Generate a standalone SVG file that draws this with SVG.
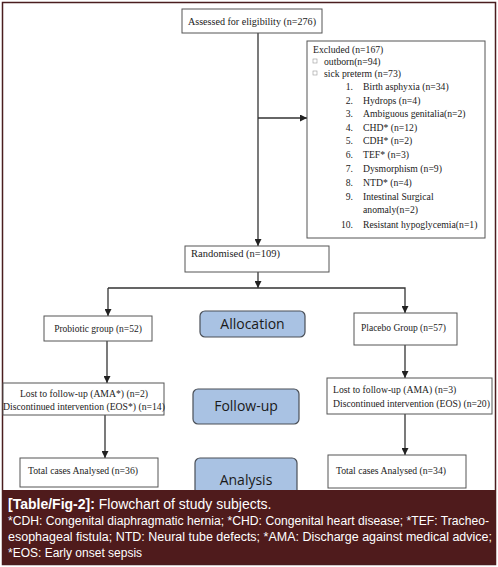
<svg xmlns="http://www.w3.org/2000/svg" width="498" height="567" viewBox="0 0 498 567">
<defs>
<marker id="ah" viewBox="0 0 10 10" refX="10" refY="5" markerWidth="7" markerHeight="7" markerUnits="userSpaceOnUse" orient="auto"><path d="M0,0 L10,5 L0,10 z" fill="#222"/></marker>
</defs>
<style>
.box{fill:#fff;stroke:#555;stroke-width:1}
.stage{fill:#a9c2e3;stroke:#4a4f57;stroke-width:1.2}
.t{font-family:"Liberation Serif","Times New Roman",serif;fill:#222}
.s{font-family:"Open Sans","Noto Sans",sans-serif;font-size:14px;fill:#1a1a1a;text-anchor:middle}
.c{font-family:"Liberation Sans",Arial,sans-serif;fill:#fff}
.ln{stroke:#333;stroke-width:1.3;fill:none}
</style>
<rect x="0" y="0" width="498" height="567" fill="#fff"/>
<rect x="2.5" y="2.5" width="493" height="562" fill="none" stroke="#4a1d1f" stroke-width="1.5"/>
<g id="connectors">
<line class="ln" x1="258" y1="33" x2="258" y2="246" marker-end="url(#ah)"/>
<line class="ln" x1="258" y1="118" x2="307" y2="118" marker-end="url(#ah)"/>
<line class="ln" x1="258" y1="272" x2="258" y2="288" marker-end="url(#ah)"/>
<polyline class="ln" points="108,288 405,288 405,313" marker-end="url(#ah)"/>
<line class="ln" x1="108" y1="288" x2="108" y2="316" marker-end="url(#ah)"/>
<line class="ln" x1="107" y1="341" x2="107" y2="383" marker-end="url(#ah)"/>
<line class="ln" x1="405" y1="345" x2="405" y2="378" marker-end="url(#ah)"/>
<line class="ln" x1="105" y1="415" x2="105" y2="458" marker-end="url(#ah)"/>
<line class="ln" x1="405" y1="414" x2="405" y2="455" marker-end="url(#ah)"/>
</g>
<g id="assessed">
<rect class="box" x="182" y="9" width="140" height="24"/>
<text class="t" x="188" y="25" font-size="11" textLength="128" lengthAdjust="spacingAndGlyphs">Assessed for eligibility  (n=276)</text>
</g>
<g id="excluded">
<rect class="box" x="307" y="41" width="178" height="197"/>
<g class="t" font-size="9.7">
<text x="313" y="53">Excluded  (n=167)</text>
<rect x="313" y="59" width="4" height="4" fill="none" stroke="#999" stroke-width="0.6"/>
<text x="324" y="65">outborn(n=94)</text>
<rect x="313" y="71" width="4" height="4" fill="none" stroke="#999" stroke-width="0.6"/>
<text x="324" y="77">sick preterm (n=73)</text>
<text x="353" y="90" text-anchor="end">1.</text><text x="363" y="90">Birth asphyxia (n=34)</text>
<text x="353" y="104" text-anchor="end">2.</text><text x="363" y="104">Hydrops  (n=4)</text>
<text x="353" y="117" text-anchor="end">3.</text><text x="363" y="117">Ambiguous genitalia(n=2)</text>
<text x="353" y="131" text-anchor="end">4.</text><text x="363" y="131">CHD* (n=12)</text>
<text x="353" y="144" text-anchor="end">5.</text><text x="363" y="144">CDH* (n=2)</text>
<text x="353" y="158" text-anchor="end">6.</text><text x="363" y="158">TEF* (n=3)</text>
<text x="353" y="172" text-anchor="end">7.</text><text x="363" y="172">Dysmorphism (n=9)</text>
<text x="353" y="186" text-anchor="end">8.</text><text x="363" y="186">NTD* (n=4)</text>
<text x="353" y="200" text-anchor="end">9.</text><text x="363" y="200">Intestinal Surgical</text>
<text x="363" y="213">anomaly(n=2)</text>
<text x="353" y="228" text-anchor="end">10.</text><text x="363" y="228">Resistant hypoglycemia(n=1)</text>
</g>
</g>
<g id="randomised">
<rect class="box" x="185" y="246" width="144" height="26"/>
<text class="t" x="191" y="257" font-size="10.5">Randomised (n=109)</text>
</g>
<g id="probiotic">
<rect class="box" x="44" y="316" width="108" height="25"/>
<text class="t" x="98" y="332" font-size="9.5" text-anchor="middle">Probiotic group (n=52)</text>
</g>
<g id="allocation">
<rect class="stage" x="200" y="311" width="105" height="26" rx="5"/>
<text class="s" x="252.5" y="329">Allocation</text>
</g>
<g id="placebo">
<rect class="box" x="354" y="313" width="103" height="32"/>
<text class="t" x="361" y="331" font-size="9.5">Placebo Group (n=57)</text>
</g>
<g id="lost-left">
<rect class="box" x="3" y="383" width="161" height="32"/>
<text class="t" x="84" y="397" font-size="9.7" text-anchor="middle">Lost to follow-up (AMA*) (n=2)</text>
<text class="t" x="84" y="410" font-size="9.7" text-anchor="middle">Discontinued intervention (EOS*) (n=14)</text>
</g>
<g id="followup">
<rect class="stage" x="193" y="389" width="106" height="35" rx="5"/>
<text class="s" x="246" y="411">Follow-up</text>
</g>
<g id="lost-right">
<rect class="box" x="327" y="378" width="165" height="36"/>
<text class="t" x="333" y="393" font-size="9.7">Lost to follow-up (AMA) (n=3)</text>
<text class="t" x="333" y="407" font-size="9.7">Discontinued intervention (EOS) (n=20)</text>
</g>
<g id="total-left">
<rect class="box" x="20" y="458" width="138" height="29"/>
<text class="t" x="28" y="474" font-size="9.7">Total cases Analysed  (n=36)</text>
</g>
<g id="analysis">
<rect class="stage" x="195" y="458" width="102" height="40" rx="5"/>
<text class="s" x="246" y="485">Analysis</text>
</g>
<g id="total-right">
<rect class="box" x="328" y="455" width="138" height="33"/>
<text class="t" x="336" y="474" font-size="9.7">Total cases Analysed  (n=34)</text>
</g>
<g id="caption">
<rect x="2" y="490" width="494" height="74" fill="#4f1b1c"/>
<text class="c" x="8" y="509" font-size="14"><tspan font-weight="bold">[Table/Fig-2]:</tspan> Flowchart of study subjects.</text>
<text class="c" x="8" y="525" font-size="12" textLength="481" lengthAdjust="spacingAndGlyphs">*CDH: Congenital diaphragmatic hernia; *CHD: Congenital heart disease; *TEF: Tracheo-</text>
<text class="c" x="8" y="541" font-size="12" textLength="484" lengthAdjust="spacingAndGlyphs">esophageal fistula; NTD: Neural tube defects; *AMA: Discharge against medical advice;</text>
<text class="c" x="8" y="557" font-size="12">*EOS: Early onset sepsis</text>
</g>
</svg>
